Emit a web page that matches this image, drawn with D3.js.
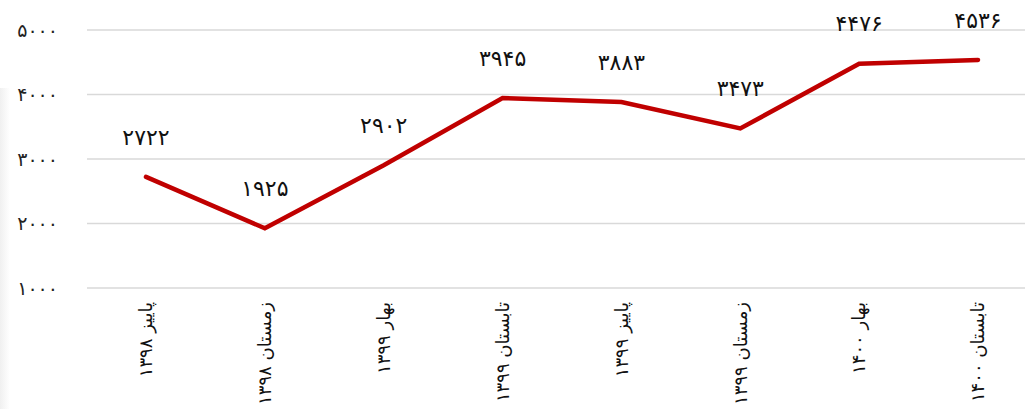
<!DOCTYPE html>
<html><head><meta charset="utf-8">
<script src="https://cdn.jsdelivr.net/npm/d3@7"></script>
<style>html,body{margin:0;padding:0;background:#fff;}svg{display:block;}</style>
</head><body>
<svg id="c" width="1025" height="409"></svg>
<script>
const categories = ["پاییز ۱۳۹۸","زمستان ۱۳۹۸","بهار ۱۳۹۹","تابستان ۱۳۹۹","پاییز ۱۳۹۹","زمستان ۱۳۹۹","بهار ۱۴۰۰","تابستان ۱۴۰۰"];
const values = [2722, 1925, 2902, 3945, 3883, 3473, 4476, 4536];
const yTicks = [1000, 2000, 3000, 4000, 5000];
const yTickLabels = ["۱۰۰۰","۲۰۰۰","۳۰۰۰","۴۰۰۰","۵۰۰۰"];

const fa = n => String(n).replace(/\d/g, d => "۰۱۲۳۴۵۶۷۸۹"[d]);
const svg = d3.select("#c");
const font = "'DejaVu Sans', sans-serif";

// faint left shadow
const defs = svg.append("defs");
const g1 = defs.append("linearGradient").attr("id","sh").attr("x1","0").attr("x2","1");
g1.append("stop").attr("offset","0").attr("stop-color","#f0f0f0");
g1.append("stop").attr("offset","1").attr("stop-color","#ffffff");
svg.append("rect").attr("x",0).attr("y",88).attr("width",10).attr("height",321).attr("fill","url(#sh)");

const x = d3.scalePoint().domain(categories).range([146, 978]);
const y = d3.scaleLinear().domain([1000, 5000]).range([288, 30]);

// gridlines
svg.append("g").selectAll("line").data(yTicks).join("line")
  .attr("x1", 87).attr("x2", 1025)
  .attr("y1", d => y(d)).attr("y2", d => y(d))
  .attr("stroke", "#d9d9d9").attr("stroke-width", 1.5);

// y labels
svg.append("g").selectAll("text").data(yTicks).join("text")
  .attr("x", 58).attr("y", d => y(d)).attr("dy", "0.35em")
  .attr("text-anchor", "end").attr("font-family", font).attr("font-size", 19)
  .attr("fill", "#222").attr("direction","ltr")
  .text((d,i) => yTickLabels[i]);

// x labels rotated
svg.append("g").selectAll("text").data(categories).join("text")
  .attr("transform", d => `translate(${x(d)},302) rotate(-90)`)
  .attr("text-anchor", "end").attr("dy", "0.35em")
  .attr("font-family", font).attr("font-size", 18).attr("fill", "#111")
  .text(d => d);

// line
const line = d3.line().x((d,i) => x(categories[i])).y(d => y(d));
svg.append("path").datum(values).attr("d", line)
  .attr("fill", "none").attr("stroke", "#c00000").attr("stroke-width", 4.5)
  .attr("stroke-linejoin", "miter").attr("stroke-linecap", "round");

// data labels
svg.append("g").selectAll("text").data(values).join("text")
  .attr("x", (d,i) => x(categories[i])).attr("y", d => y(d) - 40).attr("dy","0.35em")
  .attr("text-anchor", "middle").attr("font-family", font).attr("font-size", 22)
  .attr("fill", "#111")
  .text(d => fa(d));
</script>
</body></html>
